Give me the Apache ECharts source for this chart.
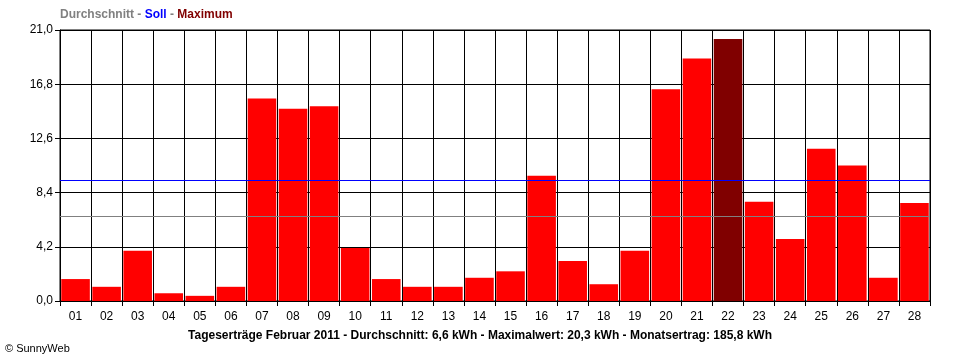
<!DOCTYPE html>
<html><head><meta charset="utf-8">
<script src="https://cdn.jsdelivr.net/npm/echarts@6/dist/echarts.min.js"></script>
<style>html,body{margin:0;padding:0;background:#fff}#c{width:960px;height:360px}</style>
</head><body><div id="c"></div>
<script>
var days = ['01','02','03','04','05','06','07','08','09','10','11','12','13','14','15','16','17','18','19','20','21','22','23','24','25','26','27','28'];
var values = [1.7,1.1,3.9,0.6,0.4,1.1,15.7,14.9,15.1,4.1,1.7,1.1,1.1,1.8,2.3,9.7,3.1,1.3,3.9,16.4,18.8,20.3,7.7,4.8,11.8,10.5,1.8,7.6];
var maxIndex = 21;
var average = 6.6;
var target = 9.4;
var yMin = 0, yMax = 21, yStep = 4.2;
var titleText = 'Tageserträge Februar 2011 - Durchschnitt: 6,6 kWh - Maximalwert: 20,3 kWh - Monatsertrag: 185,8 kWh';

var chart = echarts.init(document.getElementById('c'), null, {renderer:'canvas'});
var font = 'Liberation Sans, Arial, sans-serif';
var texts = [
  {type:'text',left:60,top:9,style:{rich:{g:{fill:'#808080',fontWeight:'bold',fontSize:12,fontFamily:font},b:{fill:'#0000ff',fontWeight:'bold',fontSize:12,fontFamily:font},r:{fill:'#800000',fontWeight:'bold',fontSize:12,fontFamily:font}},text:'{g|Durchschnitt - }{b|Soll}{g| - }{r|Maximum}'}},
  {type:'text',left:'center',top:330,style:{text:titleText,fill:'#000',fontWeight:'bold',fontSize:12,fontFamily:font}},
  {type:'text',left:5,top:343,style:{text:'© SunnyWeb',fill:'#000',fontSize:11,fontFamily:font}}
];
chart.setOption({
  animation:false,
  backgroundColor:'#fff',
  grid:{left:60,right:30,top:30,bottom:59,show:true,borderColor:'#000',borderWidth:1},
  graphic:texts,
  xAxis:{type:'category',data:days,boundaryGap:true,
    axisLine:{lineStyle:{color:'#000',width:1}},
    axisTick:{show:true,length:5,lineStyle:{color:'#000'}},
    axisLabel:{color:'#000',fontSize:12,fontFamily:font,margin:10},
    splitLine:{show:true,lineStyle:{color:'#000',width:1}}},
  yAxis:{type:'value',min:yMin,max:yMax,interval:yStep,
    axisLine:{show:true,lineStyle:{color:'#000'}},
    axisTick:{show:true,length:5,lineStyle:{color:'#000'}},
    axisLabel:{color:'#000',fontSize:12,fontFamily:font,margin:7,formatter:function(v){return v.toFixed(1).replace('.',',');}},
    splitLine:{show:true,lineStyle:{color:'#000',width:1}}},
  series:[{type:'bar',barCategoryGap:'8%',
    data:values.map(function(v,i){return {value:v,itemStyle:{color:i===maxIndex?'#800000':'#ff0000'}};})}]
});
// reference lines (Durchschnitt, Soll) placed through the y axis scale, drawn crisp on top of the bars
var rect = chart.getModel().getComponent('grid').coordinateSystem.getRect();
var els = texts.slice();
[[average,'#808080'],[target,'#0000ff']].forEach(function(p){
  var y = Math.round(chart.convertToPixel({yAxisIndex:0}, p[0])) + 0.5;
  els.push({type:'line',z:100,silent:true,shape:{x1:rect.x,y1:y,x2:rect.x+rect.width,y2:y},style:{stroke:p[1],lineWidth:1}});
});
chart.setOption({graphic:els},{replaceMerge:['graphic']});
</script></body></html>
